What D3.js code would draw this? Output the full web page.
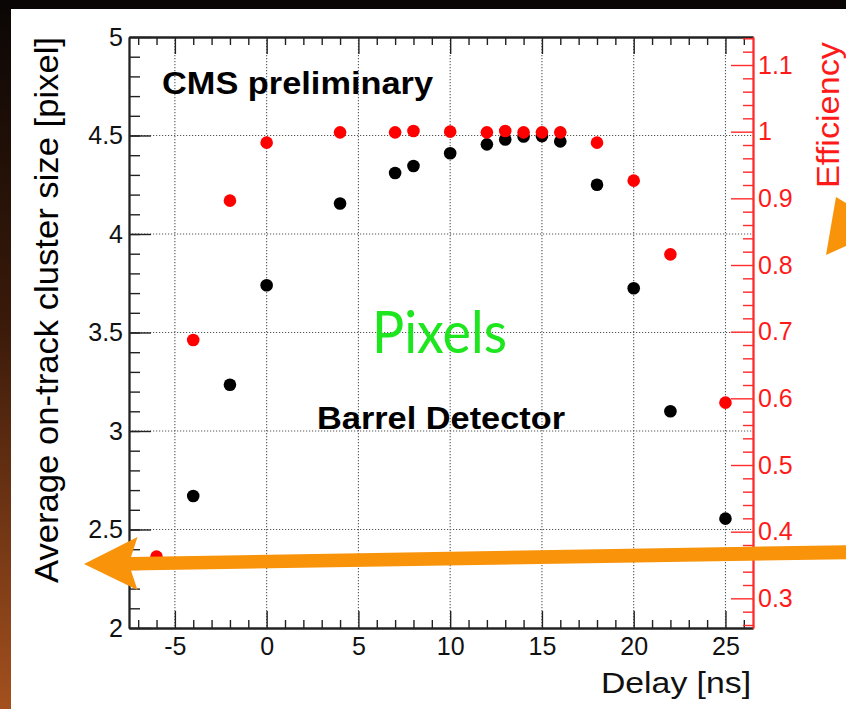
<!DOCTYPE html>
<html><head><meta charset="utf-8">
<script src="https://cdn.jsdelivr.net/npm/d3@7"></script>
<style>html,body{margin:0;padding:0;background:#0a0605;overflow:hidden}</style>
</head><body><svg id="c" width="846" height="709"></svg>
<script>
// ---- data ----
const effDelays = [-6,-4,-2,0,4,7,8,10,12,13,14,15,16,18,20,22,25];
const efficiency = [0.3625,0.6875,0.8965,0.9835,0.999,0.999,1.001,1.0,0.999,1.001,0.999,0.999,0.999,0.9835,0.9265,0.816,0.5935];
const clusterDelays = [-4,-2,0,4,7,8,10,12,13,14,15,16,18,20,22,25];
const clusterSize = [2.67,3.235,3.74,4.155,4.31,4.345,4.41,4.455,4.48,4.495,4.497,4.47,4.25,3.725,3.10,2.555];
const xTicks = [-5,0,5,10,15,20,25];
const yLeftTicks = [2,2.5,3,3.5,4,4.5,5];
const yRightTicks = [0.3,0.4,0.5,0.6,0.7,0.8,0.9,1,1.1];
const xDomain = [-7.5,26.5];
const yLeftDomain = [2,5];
const yRightDomain = [0.2555,1.142];

const svg = d3.select("#c");
const defs = svg.append("defs");
const g = defs.append("linearGradient").attr("id","strip").attr("x1",0).attr("y1",0).attr("x2",0).attr("y2",1);
g.append("stop").attr("offset","0%").attr("stop-color","#0c0705");
g.append("stop").attr("offset","45%").attr("stop-color","#3a1a0a");
g.append("stop").attr("offset","100%").attr("stop-color","#a4501e");

svg.append("rect").attr("width",846).attr("height",709).attr("fill","#0a0605");
svg.append("rect").attr("x",0).attr("y",9).attr("width",11).attr("height",700).attr("fill","url(#strip)");
svg.append("rect").attr("x",11).attr("y",9).attr("width",835).attr("height",700).attr("fill","#ffffff");

const L=129,R=753,T=37,B=628;
const x = d3.scaleLinear().domain(xDomain).range([L,R]);
const yL = d3.scaleLinear().domain(yLeftDomain).range([B,T]);
const yR = d3.scaleLinear().domain(yRightDomain).range([B,T]);

// grid
const grid = svg.append("g").attr("stroke","#555").attr("stroke-width",1.1).attr("stroke-dasharray","1.2,1.8");
grid.selectAll("line.v").data(xTicks).join("line").attr("class","v")
  .attr("x1",d=>x(d)).attr("x2",d=>x(d)).attr("y1",T).attr("y2",B);
grid.selectAll("line.h").data(yLeftTicks.filter(d=>d>2&&d<5)).join("line").attr("class","h")
  .attr("x1",L).attr("x2",R).attr("y1",d=>yL(d)).attr("y2",d=>yL(d));

const font = "'Liberation Sans', Arial, Helvetica, sans-serif";
const fmt = d => String(d);
function styleAxis(sel,color){
  sel.select(".domain").attr("stroke",color).attr("stroke-width",1.8);
  sel.selectAll(".tick line").attr("stroke",color).attr("stroke-width",1.4);
  sel.selectAll(".tick text").attr("fill",color).style("font-family",font).style("font-size","25px");
}

const xMinor = d3.range(-7,27,1).filter(d=>xTicks.indexOf(d)<0);
// bottom
const bMin = svg.append("g").attr("transform",`translate(0,${B})`)
  .call(d3.axisBottom(x).tickValues(xMinor).tickSize(-8).tickSizeOuter(0).tickFormat(""));
styleAxis(bMin,"#222");
const bAx = svg.append("g").attr("transform",`translate(0,${B})`)
  .call(d3.axisBottom(x).tickValues(xTicks).tickSize(-17).tickSizeOuter(0).tickPadding(9).tickFormat(fmt));
styleAxis(bAx,"#222");
bAx.selectAll(".tick text").attr("fill","#111");
// top
const tMin = svg.append("g").attr("transform",`translate(0,${T})`)
  .call(d3.axisTop(x).tickValues(xMinor).tickSize(-8).tickSizeOuter(0).tickFormat(""));
styleAxis(tMin,"#222");
const tAx = svg.append("g").attr("transform",`translate(0,${T})`)
  .call(d3.axisTop(x).tickValues(xTicks).tickSize(-17).tickSizeOuter(0).tickFormat(""));
styleAxis(tAx,"#222");

// left
const yLMinor = d3.range(2.1,4.95,0.1);
const lMin = svg.append("g").attr("transform",`translate(${L},0)`)
  .call(d3.axisLeft(yL).tickValues(yLMinor).tickSize(-11).tickSizeOuter(0).tickFormat(""));
styleAxis(lMin,"#222");
const lAx = svg.append("g").attr("transform",`translate(${L},0)`)
  .call(d3.axisLeft(yL).tickValues(yLeftTicks).tickSize(-22).tickSizeOuter(0).tickPadding(6).tickFormat(fmt));
styleAxis(lAx,"#222");
lAx.selectAll(".tick text").attr("fill","#111");

// right (red)
const yRMinor = d3.range(0.26,1.1425,0.02).filter(d=>Math.abs(Math.round(d*10)-d*10)>0.01);
const rMin = svg.append("g").attr("transform",`translate(${R},0)`)
  .call(d3.axisRight(yR).tickValues(yRMinor).tickSize(-10).tickSizeOuter(0).tickFormat(""));
styleAxis(rMin,"#ff2a2a");
const rAx = svg.append("g").attr("transform",`translate(${R},0)`)
  .call(d3.axisRight(yR).tickValues(yRightTicks).tickSize(-22).tickSizeOuter(0).tickPadding(5).tickFormat(fmt));
styleAxis(rAx,"#ff2a2a");
rAx.selectAll(".tick text").attr("fill","#ff1a1a");

// points
svg.append("g").selectAll("circle").data(clusterDelays.map((d,i)=>[d,clusterSize[i]])).join("circle")
  .attr("cx",d=>x(d[0])).attr("cy",d=>yL(d[1])).attr("r",6.3).attr("fill","#000");
svg.append("g").selectAll("circle").data(effDelays.map((d,i)=>[d,efficiency[i]])).join("circle")
  .attr("cx",d=>x(d[0])).attr("cy",d=>yR(d[1])).attr("r",6.3).attr("fill","#ff0000");

// texts
function txt(s,xx,yy,opts){
  const t = svg.append("text").attr("x",xx).attr("y",yy).text(s)
    .style("font-family",opts.family||font).style("font-size",opts.size+"px")
    .attr("fill",opts.fill||"#000").style("font-weight",opts.weight||"normal");
  if(opts.len) t.attr("textLength",opts.len).attr("lengthAdjust","spacingAndGlyphs");
  if(opts.rot) t.attr("transform",`rotate(-90,${xx},${yy})`);
  return t;
}
txt("CMS preliminary",162,94,{size:31,weight:"bold",len:271});
txt("Barrel Detector",317,429,{size:31,weight:"bold",len:248});
txt("Pixels",372,353,{size:58,fill:"#1ee61e",family:"Lato, 'Open Sans', sans-serif",len:135});
txt("Average on-track cluster size [pixel]",58,583,{size:33,rot:true,len:546});
txt("Efficiency",839,188,{size:31,rot:true,len:146,fill:"#ff1a1a"});
txt("Delay [ns]",601,693,{size:30,len:150,fill:"#111"});

// orange arrows (annotations)
svg.append("polygon").attr("fill","#f8930a")
  .attr("points","846,545.2 131,557 137.5,537 84,564 137.5,590 131,570.5 846,559.2");
svg.append("polygon").attr("fill","#f8930a")
  .attr("points","836,197 846,203 846,246 826,255");
</script></body></html>
